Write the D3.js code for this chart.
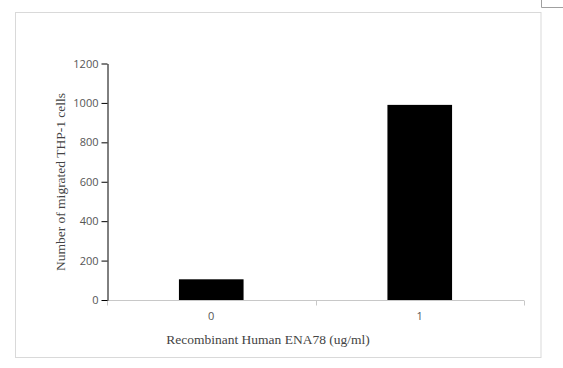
<!DOCTYPE html>
<html><head><meta charset="utf-8">
<script src="https://cdn.jsdelivr.net/npm/d3@7"></script>
<style>body{margin:0;background:#fff}svg{display:block}</style>
</head><body>
<svg id="c" width="563" height="368"></svg>
<script>
const categories = ["0", "1"];
const values = [105, 990];
const yTicks = [0, 200, 400, 600, 800, 1000, 1200];
const xTitle = "Recombinant Human ENA78 (ug/ml)";
const yTitle = "Number of migrated THP-1 cells";

(function () {
const svg = d3.select("#c");
// outer frame
svg.append("rect").attr("x", 15.5).attr("y", 12.5).attr("width", 525.5).attr("height", 345)
  .attr("fill", "none").attr("stroke", "#d9d9d9");
// corner box top-right
svg.append("path").attr("d", "M541.5,0V7.5H563").attr("fill", "none").attr("stroke", "#a0a0a0");

const pl = 107, pr = 524, pt = 63.5, pb = 300;
const x = d3.scaleBand().domain(categories).range([pl, pr]).padding(0);
const y = d3.scaleLinear().domain([0, 1200]).range([pb, pt]);

const bw = x.bandwidth() * 0.31;
svg.selectAll("rect.bar").data(values).join("rect").attr("class", "bar")
  .attr("x", (d, i) => x(categories[i]) + x.bandwidth() / 2 - bw / 2)
  .attr("width", bw)
  .attr("y", d => y(d))
  .attr("height", d => y(0) - y(d))
  .attr("fill", "#000");

// x axis
const xg = svg.append("g").attr("transform", `translate(0,${pb + 0.5})`);
xg.append("line").attr("x1", pl).attr("x2", pr).attr("stroke", "#c8c8c8");
const xEdges = [pl, ...categories.map(c => x(c) + x.bandwidth())];
xg.selectAll("line.t").data(xEdges).join("line").attr("class", "t")
  .attr("x1", d => Math.round(d) + 0.5).attr("x2", d => Math.round(d) + 0.5)
  .attr("y1", 0).attr("y2", 5).attr("stroke", "#c8c8c8");
xg.selectAll("text").data(categories).join("text")
  .attr("x", d => x(d) + x.bandwidth() / 2).attr("y", 19)
  .attr("text-anchor", "middle").attr("font-family", "Open Sans, sans-serif")
  .attr("font-size", 11).attr("fill", "#555").text(d => d);

// y axis
const yAxis = d3.axisLeft(y).tickValues(yTicks).tickFormat(d3.format("d"))
  .tickSize(6).tickPadding(3).tickSizeOuter(0);
const yg = svg.append("g").attr("transform", `translate(${pl + 0.5},0)`).call(yAxis);
yg.select(".domain").attr("stroke", "#000");
yg.selectAll(".tick line").attr("stroke", "#000");
yg.selectAll(".tick text").attr("font-family", "Open Sans, sans-serif").attr("font-size", 11).attr("fill", "#555");

svg.append("text").attr("x", 268).attr("y", 344).attr("text-anchor", "middle")
  .attr("font-family", "Liberation Serif, Times New Roman, serif").attr("font-size", 13.5)
  .attr("fill", "#444").text(xTitle);
svg.append("text").attr("transform", "translate(65,182) rotate(-90)").attr("text-anchor", "middle")
  .attr("font-family", "Liberation Serif, Times New Roman, serif").attr("font-size", 13.5)
  .attr("fill", "#444").text(yTitle);
})();
</script>
</body></html>
